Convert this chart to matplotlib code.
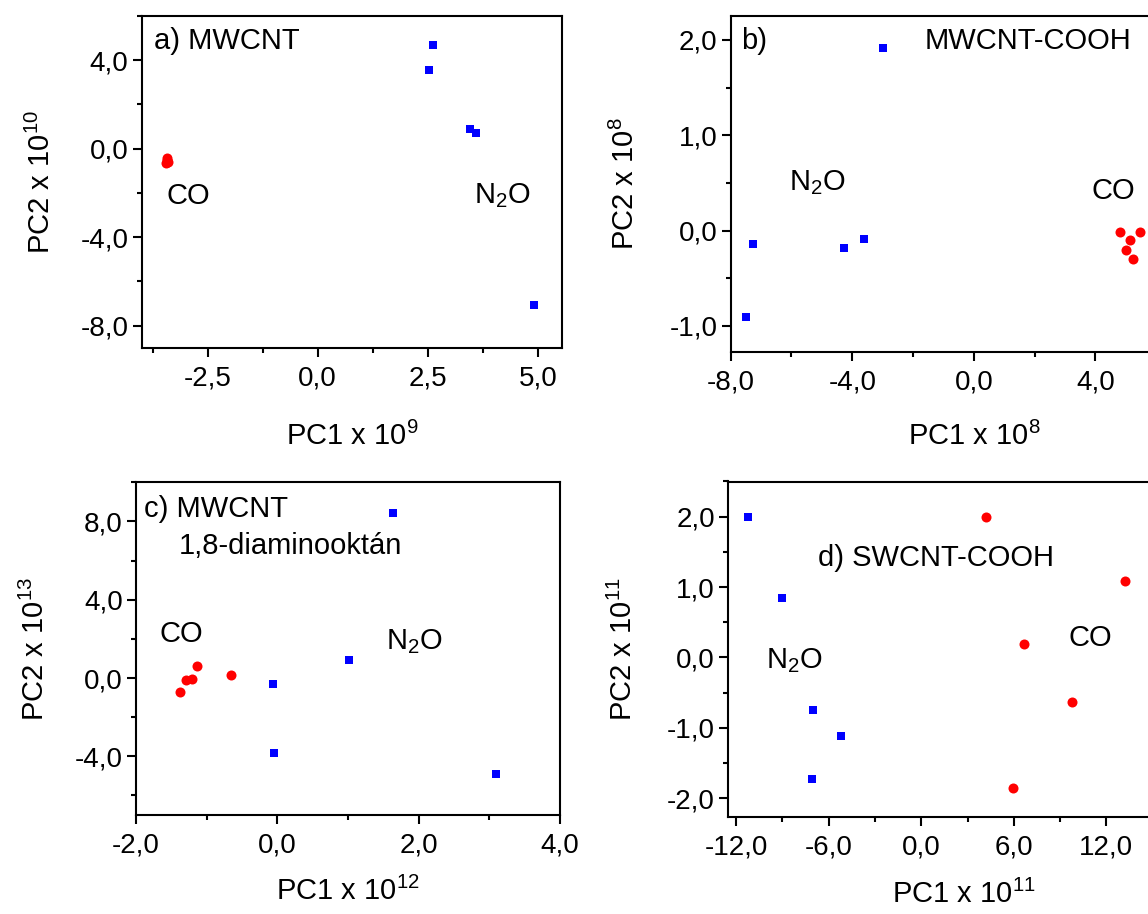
import numpy as np
import matplotlib
matplotlib.use("Agg")
import matplotlib.pyplot as plt
from matplotlib.ticker import MultipleLocator, FixedLocator, FuncFormatter

plt.rcParams['font.family'] = ['Liberation Sans', 'DejaVu Sans']
plt.rcParams['mathtext.default'] = 'regular'

# a) MWCNT
a_co_x = [-3.42, -3.43, -3.41, -3.44]
a_co_y = [-0.42, -0.50, -0.58, -0.63]
a_n2o_x = [2.52, 2.63, 3.45, 3.59, 4.92]
a_n2o_y = [3.55, 4.69, 0.88, 0.69, -7.09]

# b) MWCNT-COOH
b_co_x = [4.82, 5.48, 5.15, 5.02, 5.22]
b_co_y = [-0.02, -0.01, -0.10, -0.20, -0.30]
b_n2o_x = [-2.99, -7.26, -7.50, -4.27, -3.61]
b_n2o_y = [1.91, -0.14, -0.905, -0.185, -0.09]
b_xticks = [-8.0, -4.0, 0.0, 4.0]

# c) MWCNT 1,8-diaminooktán
c_co_x = [-1.38, -1.29, -1.21, -1.13, -0.66]
c_co_y = [-0.72, -0.12, -0.03, 0.62, 0.14]
c_n2o_x = [1.63, 1.01, -0.06, -0.05, 3.10]
c_n2o_y = [8.43, 0.92, -0.31, -3.83, -4.91]

# d) SWCNT-COOH
d_co_x = [4.19, 13.2, 6.63, 9.78, 5.96]
d_co_y = [1.99, 1.09, 0.19, -0.63, -1.86]
d_n2o_x = [-11.23, -9.04, -7.0, -5.22, -7.1]
d_n2o_y = [2.0, 0.84, -0.75, -1.12, -1.73]
d_xticks = [-12.0, -6.0, 0.0, 6.0, 12.0]

W, H = 1148, 914
fig = plt.figure(figsize=(W / 100, H / 100), dpi=100)

TICK_FS = 20
LABEL_FS = 21
NOTE_FS = 21


def box(left, top, right, bottom):
    return [left / W, 1 - bottom / H, (right - left) / W, (bottom - top) / H]


def comma(v, pos):
    return ("%.1f" % v).replace('.', ',')


def setup(ax, xlim, ylim, xmaj, ymaj, xlab, ylab, xpad, ypad, xticks=None):
    ax.set_xlim(*xlim)
    ax.set_ylim(*ylim)
    if xticks is None:
        ax.xaxis.set_major_locator(MultipleLocator(xmaj))
    else:
        # only the ticks that fall inside the visible part of the figure
        ax.xaxis.set_major_locator(FixedLocator(xticks))
    ax.xaxis.set_minor_locator(MultipleLocator(xmaj / 2))
    ax.yaxis.set_major_locator(MultipleLocator(ymaj))
    ax.yaxis.set_minor_locator(MultipleLocator(ymaj / 2))
    ax.xaxis.set_major_formatter(FuncFormatter(comma))
    ax.yaxis.set_major_formatter(FuncFormatter(comma))
    ax.tick_params(which='both', direction='out', width=1.5, labelsize=TICK_FS,
                   top=False, right=False)
    ax.tick_params(which='major', length=6.5)
    ax.tick_params(which='minor', length=3.5)
    ax.tick_params(axis='x', which='major', pad=6)
    ax.tick_params(axis='y', which='major', pad=3)
    for s in ax.spines.values():
        s.set_linewidth(1.5)
    ax.set_xlabel(xlab, fontsize=LABEL_FS, labelpad=xpad)
    ax.set_ylabel(ylab, fontsize=LABEL_FS, labelpad=ypad)


def points(ax, cx, cy, nx, ny):
    ax.scatter(nx, ny, marker='s', s=40, color='#0000ff', linewidths=0, zorder=3)
    ax.scatter(cx, cy, marker='o', s=52, color='#ff0000', linewidths=0, zorder=3)


# panel a
ax = fig.add_axes(box(141.7, 16, 562, 347.7))
setup(ax, (-4.0, 5.55), (-9.0, 6.0), 2.5, 4.0, 'PC1 x 10$^{9}$', 'PC2 x 10$^{10}$',
      xpad=22, ypad=18)
points(ax, a_co_x, a_co_y, a_n2o_x, a_n2o_y)
ax.text(-3.72, 4.88, 'a) MWCNT', fontsize=NOTE_FS, ha='left', va='center')
ax.text(-2.93, -2.14, 'CO', fontsize=NOTE_FS, ha='center', va='center')
ax.text(4.19, -2.1, 'N$_2$O', fontsize=NOTE_FS, ha='center', va='center')

# panel b
ax = fig.add_axes(box(730.7, 16, 1217, 351.7))
setup(ax, (-8.0, 8.0), (-1.27, 2.25), 4.0, 1.0, 'PC1 x 10$^{8}$', 'PC2 x 10$^{8}$',
      xpad=19, ypad=21, xticks=b_xticks)
points(ax, b_co_x, b_co_y, b_n2o_x, b_n2o_y)
ax.text(-7.66, 1.99, 'b)', fontsize=NOTE_FS, ha='left', va='center')
ax.text(-1.63, 1.99, 'MWCNT-COOH', fontsize=NOTE_FS, ha='left', va='center')
ax.text(-5.14, 0.5, 'N$_2$O', fontsize=NOTE_FS, ha='center', va='center')
ax.text(4.58, 0.41, 'CO', fontsize=NOTE_FS, ha='center', va='center')

# panel c
ax = fig.add_axes(box(136, 482.3, 560, 815))
setup(ax, (-2.0, 4.0), (-7.0, 10.0), 2.0, 4.0, 'PC1 x 10$^{12}$', 'PC2 x 10$^{13}$',
      xpad=13, ypad=18)
points(ax, c_co_x, c_co_y, c_n2o_x, c_n2o_y)
ax.text(-1.89, 8.65, 'c) MWCNT', fontsize=NOTE_FS, ha='left', va='center')
ax.text(-1.39, 6.77, '1,8-diaminooktán', fontsize=NOTE_FS, ha='left', va='center')
ax.text(-1.36, 2.24, 'CO', fontsize=NOTE_FS, ha='center', va='center')
ax.text(1.94, 1.85, 'N$_2$O', fontsize=NOTE_FS, ha='center', va='center')

# panel d
ax = fig.add_axes(box(728.3, 481.5, 1199, 817.3))
setup(ax, (-12.5, 18.0), (-2.27, 2.5), 6.0, 1.0, 'PC1 x 10$^{11}$', 'PC2 x 10$^{11}$',
      xpad=14, ypad=21, xticks=d_xticks)
points(ax, d_co_x, d_co_y, d_n2o_x, d_n2o_y)
ax.text(-6.7, 1.42, 'd) SWCNT-COOH', fontsize=NOTE_FS, ha='left', va='center')
ax.text(-8.25, -0.05, 'N$_2$O', fontsize=NOTE_FS, ha='center', va='center')
ax.text(10.94, 0.28, 'CO', fontsize=NOTE_FS, ha='center', va='center')

fig.savefig('out.png', dpi=100)
